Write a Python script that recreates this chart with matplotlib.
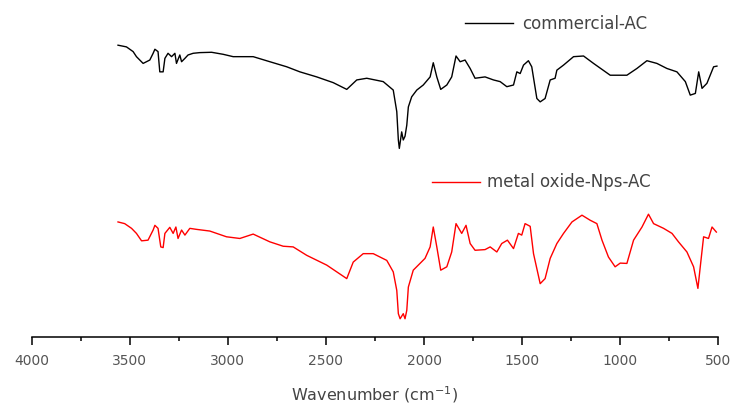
import matplotlib
matplotlib.use("Agg")
import matplotlib.pyplot as plt
from matplotlib.lines import Line2D
from matplotlib.ticker import MultipleLocator

# FTIR spectra, transmittance in arbitrary units
wn_commercial = [3560, 3517, 3483, 3466, 3432, 3398, 3381, 3372, 3356, 3347, 3330, 3321,
                 3305, 3287, 3270, 3262, 3245, 3236, 3219, 3203, 3177, 3143, 3083, 3024,
                 2973, 2871, 2786, 2700, 2633, 2547, 2463, 2394, 2343, 2292, 2208, 2157,
                 2139, 2131, 2126, 2114, 2106, 2097, 2088, 2080, 2063, 2037, 2004, 1969,
                 1953, 1935, 1915, 1884, 1859, 1837, 1816, 1791, 1765, 1740, 1689, 1646,
                 1612, 1578, 1544, 1527, 1510, 1493, 1468, 1451, 1425, 1408, 1383, 1357,
                 1332, 1323, 1289, 1238, 1187, 1136, 1051, 966, 915, 864, 813, 762, 711,
                 668, 643, 617, 600, 583, 558, 524, 507]
t_commercial = [86.6, 86.1, 84.7, 83.2, 81.2, 82.2, 84.2, 85.4, 84.7, 78.7, 78.7, 82.7,
                84.2, 83.2, 84.2, 81.2, 83.7, 81.7, 82.7, 83.7, 84.2, 84.4, 84.5, 83.9,
                83.2, 83.2, 81.7, 80.2, 78.7, 77.2, 75.5, 73.5, 76.3, 76.8, 75.8, 73.3,
                66.9, 58.5, 56.0, 60.9, 58.5, 59.6, 62.9, 68.3, 71.3, 73.3, 74.8, 77.2,
                81.4, 77.2, 73.5, 74.8, 77.2, 83.4, 81.7, 82.2, 79.7, 76.8, 77.2, 76.3,
                75.8, 74.3, 74.8, 78.7, 78.2, 80.7, 82.0, 80.2, 70.8, 69.8, 70.8, 76.3,
                76.8, 79.2, 80.7, 83.2, 83.4, 81.2, 77.7, 77.7, 79.7, 82.0, 81.2, 79.7,
                78.7, 75.8, 71.8, 72.3, 78.7, 73.8, 75.3, 80.2, 80.4]

wn_oxide = [3560, 3526, 3491, 3466, 3440, 3407, 3381, 3372, 3356, 3342, 3330, 3321,
            3296, 3279, 3265, 3254, 3236, 3219, 3194, 3160, 3092, 3007, 2939, 2871,
            2786, 2718, 2667, 2598, 2496, 2394, 2361, 2310, 2259, 2190, 2157, 2139,
            2131, 2122, 2106, 2097, 2088, 2080, 2055, 1995, 1969, 1953, 1935, 1915,
            1884, 1859, 1837, 1808, 1786, 1765, 1740, 1689, 1663, 1629, 1604, 1575,
            1544, 1519, 1502, 1485, 1459, 1442, 1408, 1383, 1357, 1323, 1289, 1246,
            1195, 1153, 1119, 1093, 1060, 1026, 1000, 966, 932, 889, 856, 830, 779,
            736, 703, 660, 626, 604, 592, 575, 550, 532, 510]
t_oxide = [34.2, 33.7, 32.3, 30.8, 28.6, 28.8, 31.8, 33.2, 32.3, 26.8, 26.6, 30.8,
           32.6, 30.8, 32.7, 29.3, 31.8, 30.3, 32.3, 32.0, 31.5, 29.8, 29.3, 30.6,
           28.3, 27.0, 26.8, 24.3, 21.4, 17.4, 22.3, 24.8, 24.8, 22.8, 19.4, 13.9,
           7.0, 5.5, 7.0, 5.5, 8.0, 14.9, 19.9, 23.4, 26.8, 32.7, 26.8, 19.9,
           20.9, 25.3, 33.7, 30.8, 33.2, 27.8, 25.8, 26.0, 26.8, 25.3, 27.8, 28.8,
           26.3, 30.8, 30.3, 33.7, 32.9, 24.8, 15.9, 17.4, 23.4, 27.8, 30.8, 34.2,
           36.2, 34.7, 33.7, 28.8, 23.8, 20.9, 22.0, 21.9, 28.8, 32.7, 36.5, 33.7,
           32.3, 30.8, 28.3, 25.3, 20.9, 14.5, 20.9, 29.8, 29.3, 32.7, 31.2]

labels = ["commercial-AC", "metal oxide-Nps-AC"]
colors = ["black", "red"]

fig = plt.figure(figsize=(7.32, 4.09), dpi=100)
ax = fig.add_axes([0.0433, 0.1753, 0.938, 0.8247])

ax.plot(wn_commercial, t_commercial, color=colors[0], lw=1.0)
ax.plot(wn_oxide, t_oxide, color=colors[1], lw=1.0)

ax.set_xlim(4000, 500)
ax.set_ylim(0, 100)
for side in ["top", "right", "left"]:
    ax.spines[side].set_visible(False)
ax.spines["bottom"].set_linewidth(1.1)
ax.set_yticks([])
ax.xaxis.set_major_locator(MultipleLocator(500))
ax.xaxis.set_minor_locator(MultipleLocator(250))
ax.tick_params(axis="x", which="major", length=5.8, width=1.1, pad=6.5,
               labelsize=10, labelcolor="#555555")
ax.tick_params(axis="x", which="minor", length=3, width=1.1)

ax.set_xlabel("Wavenumber (cm$^{-1}$)", fontsize=11.5, color="#444444")
ax.xaxis.set_label_coords(0.5, -0.14)

# legend entries drawn by hand next to each curve
fig.add_artist(Line2D([0.635, 0.701], [0.943, 0.943], color=colors[0], lw=1.0,
                      transform=fig.transFigure))
fig.text(0.713, 0.941, labels[0], fontsize=12, color="#444444", va="center")
fig.add_artist(Line2D([0.590, 0.656], [0.556, 0.556], color=colors[1], lw=1.0,
                      transform=fig.transFigure))
fig.text(0.665, 0.555, labels[1], fontsize=12, color="#444444", va="center")

fig.savefig("out.png", dpi=100)
